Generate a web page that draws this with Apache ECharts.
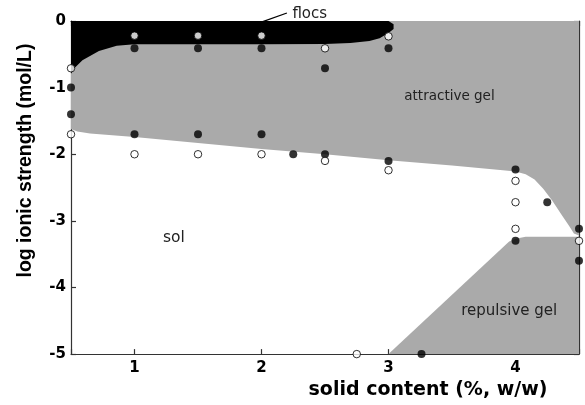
<!DOCTYPE html>
<html><head><meta charset="utf-8">
<script src="https://cdn.jsdelivr.net/npm/echarts@6/dist/echarts.min.js"></script>
<style>html,body{margin:0;padding:0;background:#fff}#c{width:585px;height:405px}</style>
</head><body><div id="c"></div>
<script>
// ---- data ----
const xTicks = [1, 2, 3, 4];
const yTicks = [0, -1, -2, -3, -4, -5];
// attractive gel (gray) region: lower boundary, left to right
const attractiveLower = [[0.5,-1.62],[0.55,-1.66],[0.65,-1.69],[0.8,-1.71],[1,-1.74],[1.5,-1.83],[2,-1.92],[2.5,-2.0],[3,-2.09],[3.5,-2.17],[3.9,-2.24],[4.0,-2.26],[4.08,-2.3],[4.15,-2.38],[4.22,-2.52],[4.29,-2.7],[4.36,-2.9],[4.42,-3.07],[4.46,-3.19],[4.5,-3.22]];
// flocs (black) region outline
const flocsRegion = [[0.5,0],[3.0,0],[3.04,-0.05],[3.04,-0.12],[3.0,-0.18],[2.93,-0.26],[2.85,-0.3],[2.7,-0.33],[2.5,-0.345],[2,-0.35],[1.5,-0.35],[1,-0.35],[0.86,-0.37],[0.72,-0.45],[0.59,-0.59],[0.53,-0.7],[0.5,-0.79]];
// repulsive gel (gray) region outline
const repulsiveRegion = [[3.0,-5],[3.95,-3.31],[4.0,-3.27],[4.08,-3.24],[4.5,-3.24],[4.5,-5]];
// measured samples
const filledPoints = [[1,-0.41],[1.5,-0.41],[2,-0.41],[3,-0.41],[2.5,-0.71],[0.5,-1.0],[0.5,-1.4],[1,-1.7],[1.5,-1.7],[2,-1.7],[2.25,-2.0],[2.5,-2.0],[3,-2.1],[4,-2.23],[4.25,-2.72],[4.5,-3.12],[4,-3.3],[4.5,-3.6],[3.26,-5.0]];
const openPoints = [[1,-0.22],[1.5,-0.22],[2,-0.22],[3,-0.23],[2.5,-0.41],[0.5,-0.71],[0.5,-1.7],[1,-2.0],[1.5,-2.0],[2,-2.0],[2.5,-2.1],[3,-2.24],[4,-2.4],[4,-2.72],[4,-3.12],[4.5,-3.3],[2.75,-5.0]];
// region labels [x, y, text]
const regionLabels = [[3.48,-1.13,'attractive gel'],[1.31,-3.25,'sol'],[3.95,-4.36,'repulsive gel'],[2.38,0.11,'flocs']];
const flocsLeader = [[2.01,-0.01],[2.2,0.12]];

const SANS = '"Liberation Sans", Arial, sans-serif';
const WIDE = '"DejaVu Sans", sans-serif';
const labelSizes = {'attractive gel':13.5, 'sol':15.5, 'repulsive gel':15, 'flocs':15};
const chart = echarts.init(document.getElementById('c'), null, {renderer:'canvas'});

const attractiveRegion = [[0.5,0],[4.5,0]].concat(attractiveLower.slice().reverse());

function polySeries(name, points, color, z) {
  return {
    name, type:'custom', coordinateSystem:'cartesian2d', silent:true, z, clip:false,
    data: points,
    renderItem: function(params, api) {
      if (params.dataIndex !== 0) return null;
      return {type:'polygon', shape:{points: points.map(p => api.coord(p))}, style:{fill: color}};
    }
  };
}

const axisLine = {show:true, onZero:false, lineStyle:{color:'#333', width:1.2}};
const tick = {show:true, inside:true, length:5, lineStyle:{color:'#333', width:1.2}};

chart.setOption({
  animation:false,
  backgroundColor:'#fff',
  grid:{left:71, right:6, top:21, bottom:44},
  xAxis:[{
    type:'value', min:0.5, max:4.5, position:'bottom',
    axisLine, axisTick:tick, splitLine:{show:false},
    axisLabel:{margin:7, color:'#000', fontWeight:'bold', fontSize:15, fontFamily:WIDE,
      formatter: v => xTicks.includes(v) ? String(v) : ''},
    name:'solid content (%, w/w)', nameLocation:'middle', nameGap:19,
    nameTextStyle:{color:'#000', fontWeight:'bold', fontSize:19, fontFamily:WIDE, padding:[0,0,0,206]}
  },{
    type:'value', min:0.5, max:4.5, position:'top',
    axisLine, axisTick:tick, axisLabel:{show:false}, splitLine:{show:false}
  }],
  yAxis:[{
    type:'value', min:-5, max:0, interval:1, position:'left',
    axisLine, axisTick:tick, splitLine:{show:false},
    axisLabel:{margin:5, color:'#000', fontWeight:'bold', fontSize:15, fontFamily:WIDE,
      formatter: v => yTicks.includes(v) ? String(v) : ''},
    name:'log ionic strength (mol/L)', nameLocation:'middle', nameGap:35, nameRotate:90,
    nameTextStyle:{color:'#000', fontWeight:'bold', fontSize:19.5, fontFamily:SANS, padding:[0,0,0,54]}
  },{
    type:'value', min:-5, max:0, interval:1, position:'right',
    axisLine, axisTick:tick, axisLabel:{show:false}, splitLine:{show:false}
  }],
  series:[
    polySeries('attractive gel', attractiveRegion, '#aaaaaa', 1),
    polySeries('repulsive gel', repulsiveRegion, '#aaaaaa', 1),
    polySeries('flocs', flocsRegion, '#000', 2),
    {name:'filled', type:'scatter', data:filledPoints, symbol:'circle', symbolSize:8, clip:false, z:5,
      itemStyle:{color:'#000'}},
    {name:'open', type:'scatter', data:openPoints, symbol:'circle', symbolSize:7.5, clip:false, z:5,
      itemStyle:{color:'#fff', borderColor:'#000', borderWidth:1}}
  ]
});

// annotations positioned through the chart's own scales
const gfx = regionLabels.map(l => {
  const p = chart.convertToPixel({gridIndex:0}, [l[0], l[1]]);
  return {type:'text', x:p[0], y:p[1], z:10, style:{text:l[2], fill:'#222', font:labelSizes[l[2]] + 'px ' + WIDE, align:'center', verticalAlign:'middle'}};
});
const a = chart.convertToPixel({gridIndex:0}, flocsLeader[0]);
const b = chart.convertToPixel({gridIndex:0}, flocsLeader[1]);
gfx.push({type:'line', z:10, shape:{x1:a[0], y1:a[1], x2:b[0], y2:b[1]}, style:{stroke:'#000', lineWidth:1.3}});
chart.setOption({graphic:gfx});
</script></body></html>
